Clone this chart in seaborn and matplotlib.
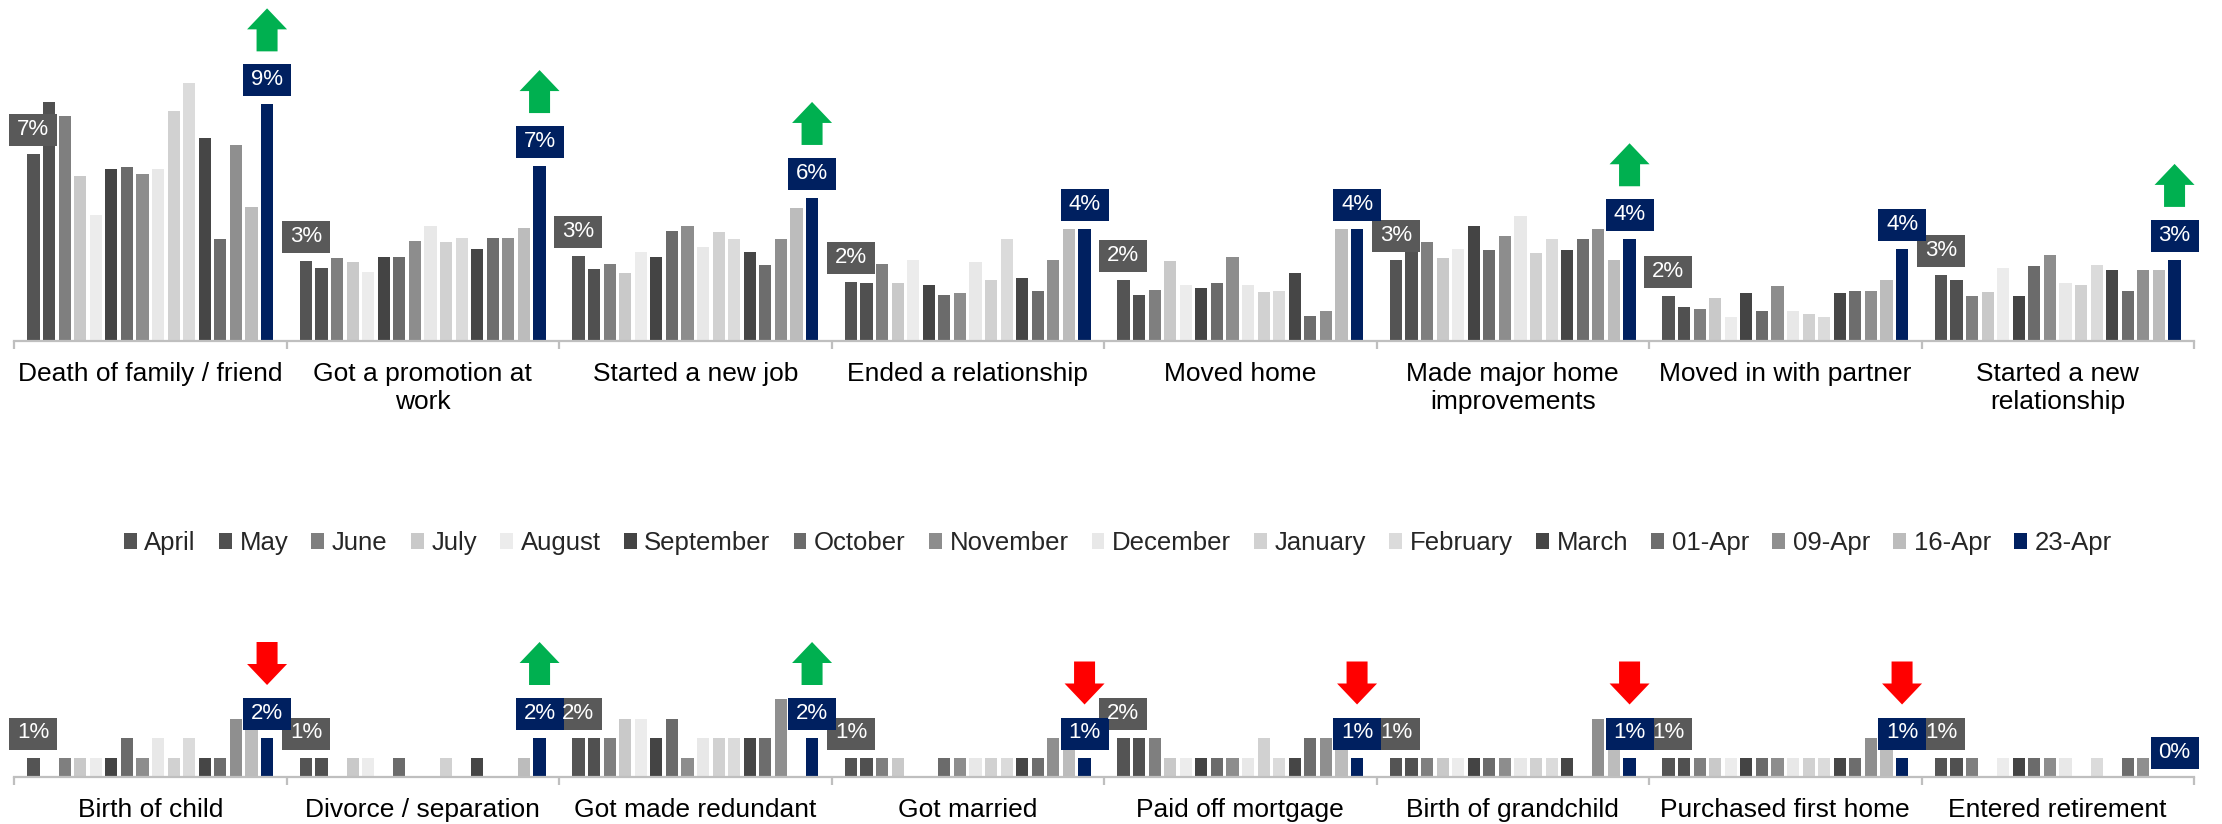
import numpy as np
import pandas as pd
import matplotlib
matplotlib.use("Agg")
import matplotlib.pyplot as plt
import matplotlib.transforms as mtransforms
from matplotlib.patches import Rectangle, Polygon
import seaborn as sns

# ---------------- data ----------------
periods = ["April", "May", "June", "July", "August", "September", "October",
           "November", "December", "January", "February", "March",
           "01-Apr", "09-Apr", "16-Apr", "23-Apr"]
period_colors = ["#545454", "#505050", "#7f7f7f", "#c9c9c9", "#ececec", "#444444",
                 "#6b6b6b", "#8d8d8d", "#e8e8e8", "#d1d1d1", "#dbdbdb", "#464646",
                 "#6d6d6d", "#8f8f8f", "#bcbcbc", "#002060"]

top_events = ["Death of family / friend", "Got a promotion at\nwork", "Started a new job",
              "Ended a relationship", "Moved home", "Made major home\nimprovements",
              "Moved in with partner", "Started a new\nrelationship"]
bottom_events = ["Birth of child", "Divorce / separation", "Got made redundant",
                 "Got married", "Paid off mortgage", "Birth of grandchild",
                 "Purchased first home", "Entered retirement"]

death = [7.33, 9.36, 8.82, 6.46, 4.93, 6.76, 6.84, 6.55, 6.76, 9.02, 10.10, 7.95, 4.01, 7.67, 5.24, 9.28]
promotion = [3.15, 2.85, 3.25, 3.08, 2.71, 3.31, 3.28, 3.93, 4.52, 3.87, 4.03, 3.61, 4.03, 4.03, 4.42, 6.86]
new_job = [3.33, 2.82, 3.03, 2.67, 3.49, 3.28, 4.31, 4.50, 3.70, 4.26, 4.00, 3.48, 2.99, 4.00, 5.22, 5.61]
ended_rel = [2.30, 2.26, 3.02, 2.26, 3.18, 2.18, 1.80, 1.87, 3.08, 2.39, 4.00, 2.46, 1.96, 3.18, 4.41, 4.41]
moved_home = [2.38, 1.82, 2.01, 3.12, 2.18, 2.07, 2.29, 3.28, 2.18, 1.91, 1.96, 2.67, 0.97, 1.18, 4.41, 4.41]
home_impr = [3.18, 3.80, 3.90, 3.24, 3.59, 4.50, 3.57, 4.10, 4.90, 3.44, 4.00, 3.57, 4.00, 4.41, 3.18, 3.99]
with_partner = [1.76, 1.32, 1.25, 1.67, 0.95, 1.87, 1.18, 2.16, 1.18, 1.07, 0.95, 1.87, 1.96, 1.96, 2.38, 3.59]
new_rel = [2.58, 2.38, 1.76, 1.92, 2.88, 1.76, 2.93, 3.37, 2.29, 2.21, 2.98, 2.77, 1.96, 2.77, 2.77, 3.18]

birth_child = [1, 0, 1, 1, 1, 1, 2, 1, 2, 1, 2, 1, 1, 3, 3, 2]
divorce = [1, 1, 0, 1, 1, 0, 1, 0, 0, 1, 0, 1, 0, 0, 1, 2]
redundant = [2, 2, 2, 3, 3, 2, 3, 1, 2, 2, 2, 2, 2, 4, 0, 2]
married = [1, 1, 1, 1, 0, 0, 1, 1, 1, 1, 1, 1, 1, 2, 2, 1]
mortgage = [2, 2, 2, 1, 1, 1, 1, 1, 1, 2, 1, 1, 2, 2, 2, 1]
grandchild = [1, 1, 1, 1, 1, 1, 1, 1, 1, 1, 1, 1, 0, 3, 2, 1]
first_home = [1, 1, 1, 1, 1, 1, 1, 1, 1, 1, 1, 1, 1, 2, 2, 1]
retirement = [1, 1, 1, 0, 1, 1, 1, 1, 1, 0, 1, 0, 1, 1, 0, 0]

top_values = [death, promotion, new_job, ended_rel, moved_home, home_impr, with_partner, new_rel]
bottom_values = [birth_child, divorce, redundant, married, mortgage, grandchild, first_home, retirement]

top_arrows = ["up", "up", "up", None, None, "up", None, "up"]
bottom_arrows = ["down", "up", "up", "down", "down", "down", "down", None]

# ---------------- style ----------------
sns.set_theme(style="white")
plt.rcParams["font.family"] = ["Liberation Sans", "DejaVu Sans"]

DPI = 100
W, H = 2222, 824
fig = plt.figure(figsize=(W / DPI, H / DPI), dpi=DPI)
fig.patch.set_facecolor("white")

LEFT, RIGHT = 14 / W, 2194 / W
TOP_BASE, TOP_SCALE = 341, 25.5      # px from top, px per %
BOT_BASE, BOT_SCALE = 777, 19.5
BOT_TOPPX = 600

ax_top = fig.add_axes([LEFT, (H - TOP_BASE) / H, RIGHT - LEFT, TOP_BASE / H])
ax_bot = fig.add_axes([LEFT, (H - BOT_BASE) / H, RIGHT - LEFT, (BOT_BASE - BOT_TOPPX) / H])

palette = dict(zip(periods, period_colors))
AXIS_GREY = "#bfbfbf"


def offset_trans(ax, x, y):
    return mtransforms.Affine2D() + mtransforms.ScaledTranslation(x, y, ax.transData)


def draw_panel(ax, events, values, ymax, arrows):
    df = pd.DataFrame({
        "event": np.repeat(events, len(periods)),
        "period": periods * len(events),
        "value": np.concatenate([np.asarray(v, float) for v in values]),
    })
    sns.barplot(data=df, x="event", y="value", hue="period", order=events,
                hue_order=periods, palette=palette, width=0.9145, gap=0.22,
                errorbar=None, legend=False, saturation=1, linewidth=0, ax=ax)
    ax.set_xlim(-0.5, len(events) - 0.5)
    ax.set_ylim(0, ymax)
    ax.set_xlabel("")
    ax.set_ylabel("")
    ax.set_yticks([])
    for s in ["top", "left", "right"]:
        ax.spines[s].set_visible(False)
    ax.spines["bottom"].set_color(AXIS_GREY)
    ax.spines["bottom"].set_linewidth(1.6)
    ax.set_xticks(range(len(events)))
    ax.set_xticklabels(events, fontsize=19, color="black", linespacing=1.2)
    ax.tick_params(axis="x", which="major", length=0, pad=15)
    ax.set_xticks(np.arange(-0.5, len(events)), minor=True)
    ax.tick_params(axis="x", which="minor", length=6, width=1.6, color=AXIS_GREY,
                   direction="out", bottom=True)
    ax.set_facecolor("none")

    # label boxes: first (April) then last (23-Apr) so navy lies on top
    for h_idx, box_col in [(0, "#595959"), (len(periods) - 1, "#002060")]:
        bars = sorted(ax.containers[h_idx], key=lambda b: b.get_x())
        for g, bar in enumerate(bars):
            x = bar.get_x() + bar.get_width() / 2
            y = bar.get_height()
            tr = offset_trans(ax, x, y)
            ax.add_patch(Rectangle((-24, 8), 48, 32, transform=tr, facecolor=box_col,
                                   edgecolor="none", clip_on=False, zorder=5))
            ax.text(0, 24.5, f"{int(round(values[g][h_idx]))}%", transform=tr,
                    ha="center", va="center", color="white", fontsize=16,
                    zorder=6, clip_on=False)
            if h_idx == len(periods) - 1 and arrows[g] is not None:
                b0 = 53
                if arrows[g] == "up":
                    verts = [(-10.5, 0), (10.5, 0), (10.5, 22), (20, 22), (0, 43),
                             (-20, 22), (-10.5, 22)]
                    col = "#00b050"
                else:
                    verts = [(-10.5, 43), (10.5, 43), (10.5, 21), (20, 21), (0, 0),
                             (-20, 21), (-10.5, 21)]
                    col = "#ff0000"
                verts = [(vx, vy + b0) for vx, vy in verts]
                ax.add_patch(Polygon(verts, closed=True, transform=tr, facecolor=col,
                                     edgecolor="none", clip_on=False, zorder=6))
    ax.set_xlim(-0.5, len(events) - 0.5)
    ax.set_ylim(0, ymax)


draw_panel(ax_top, top_events, top_values, TOP_BASE / TOP_SCALE, top_arrows)
draw_panel(ax_bot, bottom_events, bottom_values, (BOT_BASE - BOT_TOPPX) / BOT_SCALE, bottom_arrows)

handles = [Rectangle((0, 0), 1, 1, facecolor=c, edgecolor="none") for c in period_colors]
fig.legend(handles, periods, loc="center", bbox_to_anchor=(0.503, 1 - 543 / H), ncol=16,
           frameon=False, fontsize=18.5, handlelength=0.5, handleheight=0.6,
           handletextpad=0.3, columnspacing=0.9, borderaxespad=0)

fig.savefig("out.png", dpi=DPI, facecolor="white")
